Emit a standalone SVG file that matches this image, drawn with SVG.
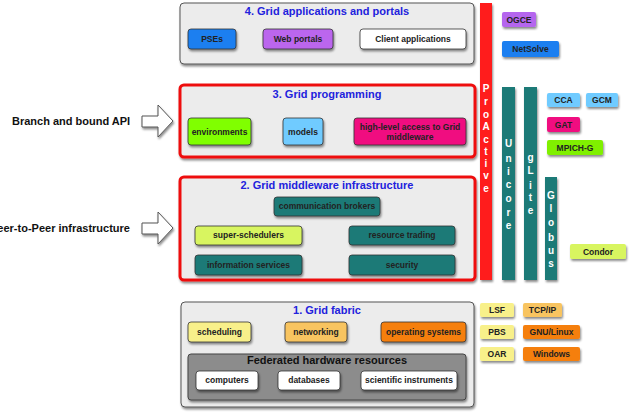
<svg xmlns="http://www.w3.org/2000/svg" width="630" height="419" viewBox="0 0 630 419">
<defs>
<filter id="sh" x="-10%" y="-10%" width="130%" height="140%">
<feDropShadow dx="1" dy="2" stdDeviation="1.2" flood-color="#000" flood-opacity="0.45"/>
</filter>
<style>
text{font-family:"Liberation Sans",Arial,sans-serif;font-weight:bold}
.layer{fill:#ececec;stroke:#555;stroke-width:1}
.red{fill:#ececec;stroke:#ee1111;stroke-width:3}
.ttl{fill:#2222dd;font-size:11px;text-anchor:middle}
.btn{stroke:#333;stroke-width:0.8}
.bt{font-size:8.5px;text-anchor:middle;fill:#222}
.vt{font-size:10px;fill:#fff;text-anchor:middle}
.lbl{font-size:11px;fill:#111}
.teal{fill:#1a7a77}
</style>
</defs>

<g id="connectors">
<path d="M142,116 H158 V105 L173,121 L158,137 V127 H142 Z" fill="#fff" stroke="#555" stroke-width="1" filter="url(#sh)"/>
<path d="M142,223 H158 V212 L173,228 L158,244 V234 H142 Z" fill="#fff" stroke="#555" stroke-width="1" filter="url(#sh)"/>
</g>

<g id="label-bb"><text class="lbl" x="12" y="125">Branch and bound API</text></g>
<g id="label-p2p"><text class="lbl" x="130" y="232" text-anchor="end">Peer-to-Peer infrastructure</text></g>

<g id="layer4">
<rect class="layer" x="180" y="3" width="294" height="61" rx="4" filter="url(#sh)"/>
<text class="ttl" x="327" y="15">4. Grid applications and portals</text>
</g>
<g id="pses"><rect class="btn" x="188" y="29" width="48" height="20" rx="3" fill="#1a7ff0" filter="url(#sh)"/><text class="bt" x="212" y="42">PSEs</text></g>
<g id="webportals"><rect class="btn" x="263" y="29" width="70" height="20" rx="3" fill="#bb66ee" filter="url(#sh)"/><text class="bt" x="298" y="42">Web portals</text></g>
<g id="clientapps"><rect class="btn" x="360" y="29" width="106" height="20" rx="3" fill="#fff" filter="url(#sh)"/><text class="bt" x="413" y="42">Client applications</text></g>

<g id="layer3">
<rect class="red" x="180" y="85" width="295" height="72" rx="4" filter="url(#sh)"/>
<text class="ttl" x="327" y="98">3. Grid programming</text>
</g>
<g id="environments"><rect class="btn" x="188" y="118" width="63" height="27" rx="3" fill="#80ff00" filter="url(#sh)"/><text class="bt" x="219.5" y="135">environments</text></g>
<g id="models"><rect class="btn" x="283" y="118" width="40" height="27" rx="3" fill="#6fcbff" filter="url(#sh)"/><text class="bt" x="303" y="135">models</text></g>
<g id="highlevel"><rect class="btn" x="354" y="118" width="112" height="27" rx="3" fill="#f01080" filter="url(#sh)"/><text class="bt" x="410" y="130" fill="#5a0030">high-level access to Grid</text><text class="bt" x="410" y="140" fill="#5a0030">middleware</text></g>

<g id="layer2">
<rect class="red" x="180" y="177" width="295" height="103" rx="4" filter="url(#sh)"/>
<text class="ttl" x="327" y="189">2. Grid middleware infrastructure</text>
</g>
<g id="commbrokers"><rect class="btn teal" x="274" y="197" width="106" height="19" rx="3" filter="url(#sh)"/><text class="bt" x="327" y="209">communication brokers</text></g>
<g id="superschedulers"><rect class="btn" x="195" y="226" width="107" height="19" rx="3" fill="#d8f560" filter="url(#sh)"/><text class="bt" x="248.5" y="238">super-schedulers</text></g>
<g id="resourcetrading"><rect class="btn teal" x="349" y="226" width="106" height="19" rx="3" filter="url(#sh)"/><text class="bt" x="402" y="238">resource trading</text></g>
<g id="infoservices"><rect class="btn teal" x="195" y="255" width="107" height="20" rx="3" filter="url(#sh)"/><text class="bt" x="248.5" y="268">information services</text></g>
<g id="security"><rect class="btn teal" x="349" y="255" width="106" height="20" rx="3" filter="url(#sh)"/><text class="bt" x="402" y="268">security</text></g>

<g id="layer1">
<rect class="layer" x="181" y="302" width="293" height="105" rx="4" filter="url(#sh)"/>
<text class="ttl" x="327" y="314">1. Grid fabric</text>
</g>
<g id="scheduling"><rect class="btn" x="188" y="322" width="63" height="20" rx="3" fill="#f8f08a" filter="url(#sh)"/><text class="bt" x="219.5" y="335">scheduling</text></g>
<g id="networking"><rect class="btn" x="285" y="322" width="62" height="20" rx="3" fill="#f8c460" filter="url(#sh)"/><text class="bt" x="316" y="335">networking</text></g>
<g id="os"><rect class="btn" x="381" y="322" width="85" height="20" rx="3" fill="#f57f10" filter="url(#sh)"/><text class="bt" x="423.5" y="335">operating systems</text></g>
<g id="federated">
<rect x="188" y="354" width="278" height="46" rx="3" fill="#8c8c8c" stroke="#444" stroke-width="1" filter="url(#sh)"/>
<text x="327" y="364" font-size="11px" text-anchor="middle" fill="#111">Federated hardware resources</text>
</g>
<g id="computers"><rect class="btn" x="196" y="371" width="62" height="19" rx="3" fill="#fff" filter="url(#sh)"/><text class="bt" x="227" y="383">computers</text></g>
<g id="databases"><rect class="btn" x="278" y="371" width="62" height="19" rx="3" fill="#fff" filter="url(#sh)"/><text class="bt" x="309" y="383">databases</text></g>
<g id="sciinstr"><rect class="btn" x="361" y="371" width="96" height="19" rx="3" fill="#fff" filter="url(#sh)"/><text class="bt" x="409" y="383">scientific instruments</text></g>

<g id="proactive">
<rect x="480" y="3" width="12" height="277" fill="#ff1a1a" filter="url(#sh)"/>
<text class="vt"><tspan x="486" y="92">P</tspan><tspan x="486" y="105">r</tspan><tspan x="486" y="118">o</tspan><tspan x="486" y="130">A</tspan><tspan x="486" y="143">c</tspan><tspan x="486" y="155">t</tspan><tspan x="486" y="167">i</tspan><tspan x="486" y="179">v</tspan><tspan x="486" y="192">e</tspan></text>
</g>
<g id="unicore">
<rect x="502" y="87" width="13" height="193" class="teal" filter="url(#sh)"/>
<text class="vt"><tspan x="508.5" y="147">U</tspan><tspan x="508.5" y="162">n</tspan><tspan x="508.5" y="175">i</tspan><tspan x="508.5" y="188">c</tspan><tspan x="508.5" y="202">o</tspan><tspan x="508.5" y="216">r</tspan><tspan x="508.5" y="229">e</tspan></text>
</g>
<g id="glite">
<rect x="524" y="87" width="13" height="193" class="teal" filter="url(#sh)"/>
<text class="vt"><tspan x="530.5" y="161">g</tspan><tspan x="530.5" y="174">L</tspan><tspan x="530.5" y="189">i</tspan><tspan x="530.5" y="201">t</tspan><tspan x="530.5" y="214">e</tspan></text>
</g>
<g id="globus">
<rect x="545" y="177" width="12" height="103" class="teal" filter="url(#sh)"/>
<text class="vt"><tspan x="551" y="199">G</tspan><tspan x="551" y="212">l</tspan><tspan x="551" y="226">o</tspan><tspan x="551" y="241">b</tspan><tspan x="551" y="254">u</tspan><tspan x="551" y="267">s</tspan></text>
</g>

<g id="ogce"><rect x="502" y="12" width="34" height="15" rx="2" fill="#b566ee" filter="url(#sh)"/><text class="bt" x="519" y="23">OGCE</text></g>
<g id="netsolve"><rect x="502" y="41" width="57" height="16" rx="2" fill="#1a7ff0" filter="url(#sh)"/><text class="bt" x="530.5" y="52">NetSolve</text></g>
<g id="cca"><rect x="547" y="93" width="33" height="14" rx="2" fill="#6fcbff" filter="url(#sh)"/><text class="bt" x="563.5" y="103">CCA</text></g>
<g id="gcm"><rect x="586" y="93" width="32" height="14" rx="2" fill="#6fcbff" filter="url(#sh)"/><text class="bt" x="602" y="103">GCM</text></g>
<g id="gat"><rect x="547" y="117" width="33" height="15" rx="2" fill="#f01080" filter="url(#sh)"/><text class="bt" x="563.5" y="127.5" fill="#5a0030">GAT</text></g>
<g id="mpichg"><rect x="547" y="140" width="56" height="15" rx="2" fill="#80f000" filter="url(#sh)"/><text class="bt" x="575" y="150.5">MPICH-G</text></g>
<g id="condor"><rect x="570" y="244" width="56" height="15" rx="2" fill="#d8f560" filter="url(#sh)"/><text class="bt" x="598" y="254.5">Condor</text></g>

<g id="lsf"><rect x="480" y="303" width="34" height="14" rx="2" fill="#f8f08a" filter="url(#sh)"/><text class="bt" x="497" y="313">LSF</text></g>
<g id="tcpip"><rect x="523" y="303" width="39" height="14" rx="2" fill="#f8c460" filter="url(#sh)"/><text class="bt" x="542.5" y="313">TCP/IP</text></g>
<g id="pbs"><rect x="480" y="325" width="34" height="14" rx="2" fill="#f8f08a" filter="url(#sh)"/><text class="bt" x="497" y="335">PBS</text></g>
<g id="gnulinux"><rect x="523" y="325" width="57" height="14" rx="2" fill="#f57f10" filter="url(#sh)"/><text class="bt" x="551.5" y="335">GNU/Linux</text></g>
<g id="oar"><rect x="480" y="347" width="34" height="14" rx="2" fill="#f8f08a" filter="url(#sh)"/><text class="bt" x="497" y="357">OAR</text></g>
<g id="windows"><rect x="523" y="347" width="57" height="14" rx="2" fill="#f57f10" filter="url(#sh)"/><text class="bt" x="551.5" y="357">Windows</text></g>
</svg>
